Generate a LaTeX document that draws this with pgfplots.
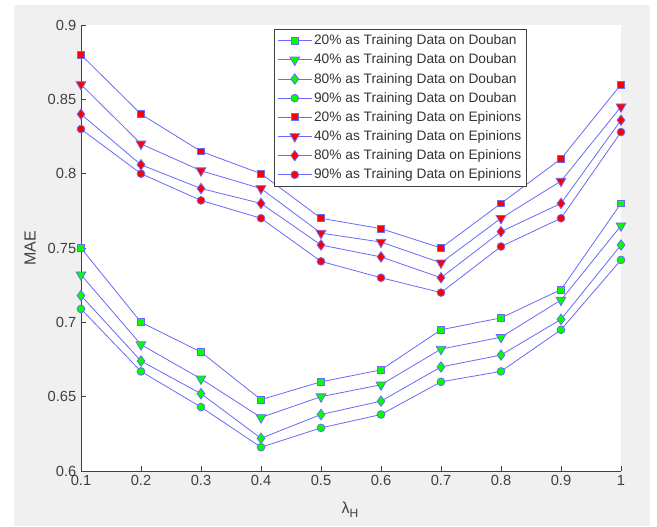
\documentclass[border=0pt]{standalone}
\usepackage{fontspec}
\setmainfont{Liberation Sans}
\usepackage{pgfplots}
\pgfplotsset{compat=1.18}
\definecolor{figbg}{RGB}{240,240,240}
\definecolor{ln}{RGB}{105,105,250}
\definecolor{edge}{RGB}{40,40,235}
\definecolor{txt}{RGB}{64,64,64}
\definecolor{mgreen}{RGB}{0,255,0}
\definecolor{mred}{RGB}{255,0,0}
\begin{document}
\begin{tikzpicture}[x=1pt,y=1pt]
\fill[white] (0,0) rectangle (492.75,394.5);
\fill[figbg] (10.5,0) rectangle (487.5,390.75);
\begin{axis}[
  at={(60.75pt,41.25pt)}, anchor=south west,
  scale only axis, width=405pt, height=334.5pt,
  xmin=0.1, xmax=1, ymin=0.6, ymax=0.9,
  enlargelimits=false,
  xtick={0.1,0.2,0.3,0.4,0.5,0.6,0.7,0.8,0.9,1},
  xticklabels={0.1,0.2,0.3,0.4,0.5,0.6,0.7,0.8,0.9,1},
  ytick={0.6,0.65,0.7,0.75,0.8,0.85,0.9},
  yticklabels={0.6,0.65,0.7,0.75,0.8,0.85,0.9},
  axis x line*=bottom, axis y line*=left,
  axis line style={draw=txt, line width=0.5pt, -},
  tick align=inside, major tick length=4pt,
  tick style={draw=txt, line width=0.5pt},
  ticklabel style={font=\fontsize{11}{13}\selectfont, text=txt},
  /pgf/number format/assume math mode=true,
  axis background/.style={fill=white},
  xlabel={λ\raisebox{-0.55ex}{\fontsize{9}{10}\selectfont H}},
  ylabel={MAE},
  every axis x label/.style={at={(axis description cs:0.498,-0.087)}, anchor=center, font=\fontsize{12}{14}\selectfont, text=txt},
  every axis y label/.style={at={(axis description cs:-0.094,0.5)}, rotate=90, anchor=center, font=\fontsize{12}{14}\selectfont, text=txt},
  legend style={at={(0.8254,0.9904)}, anchor=north east, draw=txt, fill=white,
    font=\fontsize{10.3}{12}\selectfont, text=black!80, row sep=2.6pt,
    inner sep=2.5pt, nodes={inner sep=1.4pt}},
  legend cell align=left,
  legend image code/.code={\draw[mark repeat=2,mark phase=2] plot coordinates {(0cm,0cm)(0.45cm,0cm)(0.9cm,0cm)};},
  every axis plot/.append style={draw=ln, line width=0.6pt, mark options={draw=edge, line width=0.5pt}},
]
% Douban
\addplot[mark=square*, mark size=2.6pt, mark options={fill=mgreen}] coordinates {
(0.1,0.75)(0.2,0.70)(0.3,0.68)(0.4,0.648)(0.5,0.66)(0.6,0.668)(0.7,0.695)(0.8,0.703)(0.9,0.722)(1,0.78)};
\addlegendentry{20\% as Training Data on Douban}
\addplot[mark=triangle*, mark size=4.2pt, mark options={fill=mgreen, rotate=180}] coordinates {
(0.1,0.732)(0.2,0.685)(0.3,0.662)(0.4,0.636)(0.5,0.65)(0.6,0.658)(0.7,0.682)(0.8,0.69)(0.9,0.715)(1,0.765)};
\addlegendentry{40\% as Training Data on Douban}
\addplot[mark=diamond*, mark size=3.9pt, mark options={fill=mgreen}] coordinates {
(0.1,0.718)(0.2,0.674)(0.3,0.652)(0.4,0.622)(0.5,0.638)(0.6,0.647)(0.7,0.67)(0.8,0.678)(0.9,0.702)(1,0.752)};
\addlegendentry{80\% as Training Data on Douban}
\addplot[mark=*, mark size=2.9pt, mark options={fill=mgreen}] coordinates {
(0.1,0.709)(0.2,0.667)(0.3,0.643)(0.4,0.616)(0.5,0.629)(0.6,0.638)(0.7,0.66)(0.8,0.667)(0.9,0.695)(1,0.742)};
\addlegendentry{90\% as Training Data on Douban}
% Epinions
\addplot[mark=square*, mark size=2.6pt, mark options={fill=mred}] coordinates {
(0.1,0.88)(0.2,0.84)(0.3,0.815)(0.4,0.80)(0.5,0.77)(0.6,0.763)(0.7,0.75)(0.8,0.78)(0.9,0.81)(1,0.86)};
\addlegendentry{20\% as Training Data on Epinions}
\addplot[mark=triangle*, mark size=4.2pt, mark options={fill=mred, rotate=180}] coordinates {
(0.1,0.86)(0.2,0.82)(0.3,0.802)(0.4,0.79)(0.5,0.76)(0.6,0.754)(0.7,0.74)(0.8,0.77)(0.9,0.795)(1,0.845)};
\addlegendentry{40\% as Training Data on Epinions}
\addplot[mark=diamond*, mark size=3.9pt, mark options={fill=mred}] coordinates {
(0.1,0.84)(0.2,0.806)(0.3,0.79)(0.4,0.78)(0.5,0.752)(0.6,0.744)(0.7,0.73)(0.8,0.761)(0.9,0.78)(1,0.836)};
\addlegendentry{80\% as Training Data on Epinions}
\addplot[mark=*, mark size=2.9pt, mark options={fill=mred}] coordinates {
(0.1,0.83)(0.2,0.80)(0.3,0.782)(0.4,0.77)(0.5,0.741)(0.6,0.73)(0.7,0.72)(0.8,0.751)(0.9,0.77)(1,0.828)};
\addlegendentry{90\% as Training Data on Epinions}
\end{axis}
\end{tikzpicture}
\end{document}
